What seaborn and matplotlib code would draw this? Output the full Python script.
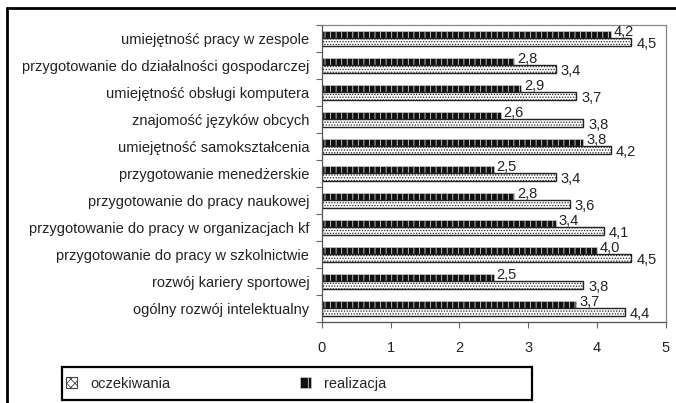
import pandas as pd
import numpy as np
import matplotlib.pyplot as plt
import seaborn as sns
from matplotlib.patches import Patch, Rectangle
from matplotlib.lines import Line2D

# data
categories = [
    "umiejętność pracy w zespole",
    "przygotowanie do działalności gospodarczej",
    "umiejętność obsługi komputera",
    "znajomość języków obcych",
    "umiejętność samokształcenia",
    "przygotowanie menedżerskie",
    "przygotowanie do pracy naukowej",
    "przygotowanie do pracy w organizacjach kf",
    "przygotowanie do pracy w szkolnictwie",
    "rozwój kariery sportowej",
    "ogólny rozwój intelektualny",
]
realizacja = [4.2, 2.8, 2.9, 2.6, 3.8, 2.5, 2.8, 3.4, 4.0, 2.5, 3.7]
oczekiwania = [4.5, 3.4, 3.7, 3.8, 4.2, 3.4, 3.6, 4.1, 4.5, 3.8, 4.4]
series_order = ["realizacja", "oczekiwania"]
x_ticks = [0, 1, 2, 3, 4, 5]

df = pd.DataFrame({
    "kategoria": categories * 2,
    "seria": ["realizacja"] * len(categories) + ["oczekiwania"] * len(categories),
    "wartosc": realizacja + oczekiwania,
})

FS = 10.5

sns.set_style("white")
plt.rcParams["font.family"] = ["Liberation Sans", "DejaVu Sans"]
plt.rcParams["hatch.linewidth"] = 0.6

fig = plt.figure(figsize=(6.76, 4.03), dpi=100)
ax = fig.add_axes([0.476, 0.201, 0.509, 0.737])

sns.barplot(data=df, x="wartosc", y="kategoria", hue="seria",
            hue_order=series_order, order=categories, orient="h",
            width=0.54, ax=ax, legend=False, errorbar=None)

# style bars: first container realizacja, second oczekiwania
cont_r, cont_o = ax.containers[0], ax.containers[1]
for p in cont_r:
    p.set_facecolor("#111111")
    p.set_edgecolor("#d8d8d8")
    p.set_hatch("|||")
    p.set_linewidth(0.4)
for p in cont_o:
    p.set_facecolor("white")
    p.set_edgecolor("#222222")
    p.set_hatch("......")
    p.set_linewidth(1.0)

# value labels with decimal comma
for p, v in zip(cont_r, realizacja):
    y = p.get_y() + p.get_height() / 2
    ax.text(p.get_width() + 0.04, y - 0.1, f"{v:.1f}".replace(".", ","),
            va="center", ha="left", fontsize=FS, color="#222222")
for p, v in zip(cont_o, oczekiwania):
    y = p.get_y() + p.get_height() / 2
    ax.text(p.get_width() + 0.07, y + 0.08, f"{v:.1f}".replace(".", ","),
            va="center", ha="left", fontsize=FS, color="#222222")

ax.set_xlim(0, 5)
ax.set_ylim(len(categories) - 0.5, -0.5)
ax.set_xticks(x_ticks)
ax.set_xticklabels([str(t) for t in x_ticks])
ax.set_xlabel("")
ax.set_ylabel("")
ax.set_yticks(np.arange(len(categories) + 1) - 0.5, minor=True)
ax.tick_params(axis="y", which="major", length=0, pad=9, labelsize=FS, labelcolor="#222222")
ax.tick_params(axis="y", which="minor", length=4, width=0.8, color="#666666", left=True)
ax.tick_params(axis="x", which="major", length=4, width=0.8, color="#666666",
               bottom=True, pad=10, labelsize=FS, labelcolor="#222222")
for s in ax.spines.values():
    s.set_color("#888888")
    s.set_linewidth(0.9)
ax.spines["left"].set_color("#555555")
ax.spines["bottom"].set_color("#555555")

# legend
handles = [
    Patch(facecolor="white", edgecolor="#444444", hatch="xxxx", linewidth=0.8),
    Patch(facecolor="#111111", edgecolor="#d8d8d8", hatch="+", linewidth=0.4),
]
leg = fig.legend(handles, ["oczekiwania", "realizacja"], loc="center left",
                 bbox_to_anchor=(0.098, 0.048), ncol=2, frameon=False,
                 borderaxespad=0, borderpad=0,
                 handlelength=0.75, handleheight=0.75, handletextpad=0.9,
                 columnspacing=8.9, fontsize=FS)
fig.add_artist(Rectangle((0.092, 0.007), 0.695, 0.082, transform=fig.transFigure,
                         fill=False, edgecolor="black", lw=1.6))

# outer frame (left and top only)
fig.add_artist(Line2D([0.0104, 0.0104], [0.0, 0.980], color="black", lw=2))
fig.add_artist(Line2D([0.0104, 1.0], [0.980, 0.980], color="black", lw=2))

plt.savefig("out.png", dpi=100)
